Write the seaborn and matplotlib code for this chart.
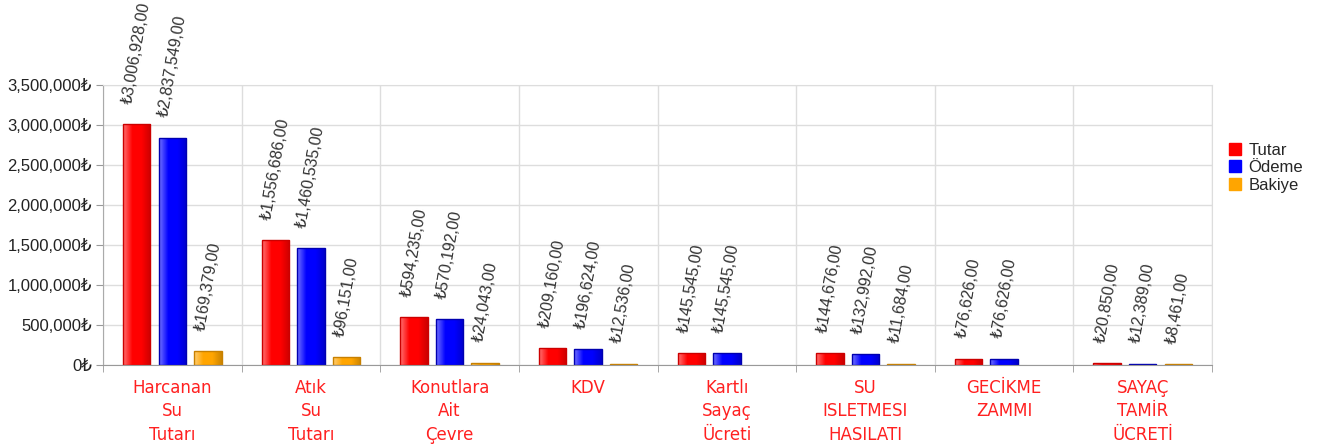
import numpy as np
import pandas as pd
import seaborn as sns
import matplotlib.pyplot as plt
from matplotlib.lines import Line2D
from matplotlib.colors import LinearSegmentedColormap, to_rgb
from matplotlib.ticker import FuncFormatter, MultipleLocator, FixedLocator

categories = ["Harcanan\nSu\nTutarı", "Atık\nSu\nTutarı", "Konutlara\nAit\nÇevre", "KDV",
              "Kartlı\nSayaç\nÜcreti", "SU\nISLETMESI\nHASILATI", "GECİKME\nZAMMI",
              "SAYAÇ\nTAMİR\nÜCRETİ"]
tutar = [3006928, 1556686, 594235, 209160, 145545, 144676, 76626, 20850]
odeme = [2837549, 1460535, 570192, 196624, 145545, 132992, 76626, 12389]
bakiye = [169379, 96151, 24043, 12536, 0, 11684, 0, 8461]
series_names = ["Tutar", "Ödeme", "Bakiye"]
colors = ["#ff0000", "#0000ff", "#ffa500"]
edge_colors = ["#cc0000", "#0000b0", "#c88000"]

df = pd.DataFrame({
    "Kalem": categories * 3,
    "Tip": sum([[s] * len(categories) for s in series_names], []),
    "Deger": tutar + odeme + bakiye,
})

sns.set_style("white")
plt.rcParams["font.family"] = ["Liberation Sans", "DejaVu Sans"]

fig = plt.figure(figsize=(13.2, 4.47), dpi=100)
ax = fig.add_axes([103 / 1320, 1 - 365 / 447, (1212 - 103) / 1320, (365 - 85) / 447])

sns.barplot(data=df, x="Kalem", y="Deger", hue="Tip", hue_order=series_names,
            palette=colors, width=0.77, gap=0.23, ax=ax, legend=False,
            linewidth=1, saturation=1)

ax.set_xlim(-0.5, len(categories) - 0.5)
ax.set_ylim(0, 3500000)

# glossy look on each bar
for cont, base, edge in zip(ax.containers, colors, edge_colors):
    r, g, b = to_rgb(base)
    light = (r + (1 - r) * 0.45, g + (1 - g) * 0.45, b + (1 - b) * 0.45)
    dark = (r * 0.8, g * 0.8, b * 0.8)
    cmap = LinearSegmentedColormap.from_list("g", [light, base, base, dark])
    grad = np.linspace(0, 1, 64).reshape(1, -1)
    for patch in cont.patches:
        x0, y0 = patch.get_x(), patch.get_y()
        w, h = patch.get_width(), patch.get_height()
        if h <= 0:
            continue
        im = ax.imshow(grad, cmap=cmap, extent=[x0, x0 + w, y0, y0 + h],
                       aspect="auto", zorder=1.9, origin="lower")
        im.set_clip_path(patch)
        patch.set_facecolor("none")
        patch.set_edgecolor(edge)
        patch.set_zorder(2)

ax.set_xlim(-0.5, len(categories) - 0.5)
ax.set_ylim(0, 3500000)

# value labels
for cont in ax.containers:
    for patch, v in zip(cont.patches, cont.datavalues):
        if v <= 0:
            continue
        ax.annotate(f"₺{v:,.0f},00", (patch.get_x() + patch.get_width() / 2, patch.get_height()),
                    xytext=(0, 14), textcoords="offset points", rotation=80,
                    ha="center", va="bottom", fontsize=11.5, color="#333333",
                    annotation_clip=False)

ax.set_xlabel("")
ax.set_ylabel("")
ax.yaxis.set_major_locator(MultipleLocator(500000))
ax.yaxis.set_major_formatter(FuncFormatter(lambda v, p: f"{v:,.0f}₺"))
ax.tick_params(axis="y", labelsize=12, colors="#222222", length=5, color="#999999",
               direction="out", left=True, pad=3)

ax.xaxis.set_minor_locator(FixedLocator(np.arange(-0.5, len(categories), 1.0)))
ax.tick_params(axis="x", which="major", length=0, labelsize=12, labelcolor="#ff2020", pad=10)
ax.tick_params(axis="x", which="minor", length=5, color="#999999", direction="out", bottom=True)
for lbl in ax.get_xticklabels():
    lbl.set_family(["DejaVu Sans"])
    lbl.set_linespacing(1.4)
    lbl.set_va("top")

ax.set_axisbelow(True)
ax.grid(axis="y", color="#dddddd", linewidth=1)
ax.grid(axis="x", which="minor", color="#dddddd", linewidth=1)
ax.grid(axis="x", which="major", visible=False)

for side in ["top", "right"]:
    ax.spines[side].set_color("#dddddd")
ax.spines["left"].set_color("#aaaaaa")
ax.spines["bottom"].set_color("#999999")

handles = [Line2D([], [], marker="s", linestyle="", markersize=8, markerfacecolor=c,
                  markeredgecolor=c) for c in colors]
fig.legend(handles, series_names, loc="upper left", bbox_to_anchor=(1220 / 1320, 1 - 136 / 447),
           frameon=False, fontsize=12, handletextpad=0.3, labelspacing=0.15, handlelength=1.0,
           borderaxespad=0)

fig.savefig("out.png", dpi=100)
